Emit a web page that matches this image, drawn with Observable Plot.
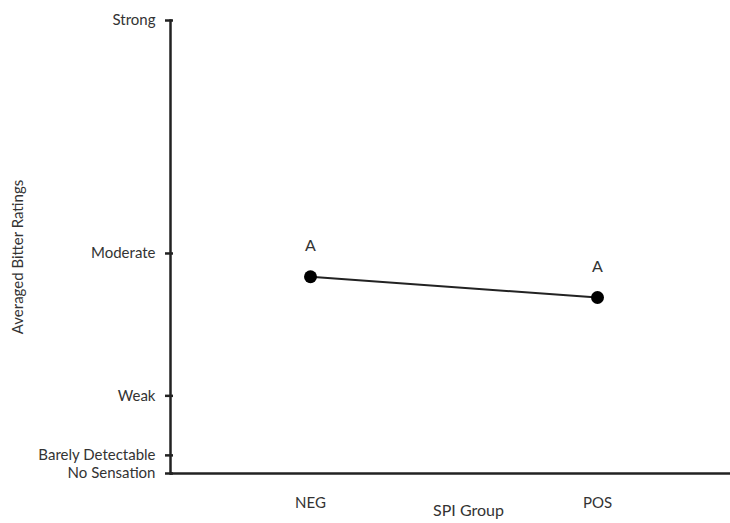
<!DOCTYPE html>
<html>
<head>
<meta charset="utf-8">
<script src="https://cdn.jsdelivr.net/npm/d3@7"></script>
<script src="https://cdn.jsdelivr.net/npm/@observablehq/plot@0.6"></script>
<style>
  html, body { margin: 0; padding: 0; background: #fff; }
  #chart { width: 730px; height: 523px; }
</style>
</head>
<body>
<div id="chart"></div>
<script>
const groups = ["NEG", "POS"];
const ratings = [15.2, 13.6];
const letters = ["A", "A"];
const tickValues = [0, 1.4, 6, 17, 35];
const tickLabels = ["No Sensation", "Barely Detectable", "Weak", "Moderate", "Strong"];
const xTitle = "SPI Group";
const yTitle = "Averaged Bitter Ratings";

const data = groups.map((g, i) => ({group: g, value: ratings[i], letter: letters[i]}));
const labelOf = new Map(tickValues.map((v, i) => [v, tickLabels[i]]));

const ink = "#222";
const font = "Lato, 'Open Sans', sans-serif";

const chart = Plot.plot({
  width: 730,
  height: 523,
  marginLeft: 170,
  marginRight: 0,
  marginTop: 20,
  marginBottom: 50,
  style: {fontFamily: font, fontSize: "15px", color: "#333", background: "#fff"},
  x: {type: "point", domain: groups, range: [310, 597], padding: 0},
  y: {domain: [0, 35]},
  marks: [
    Plot.frame({anchor: "left", stroke: ink, strokeWidth: 2.5}),
    Plot.ruleY([0], {stroke: ink, strokeWidth: 2.5}),
    Plot.axisY({
      ticks: tickValues,
      tickFormat: d => labelOf.get(d),
      tickSize: 8,
      tickPadding: 10,
      tickWidth: 2.5,
      dx: 3,
      strokeWidth: 2.5,
      stroke: ink,
      fill: "#333",
      fontSize: 15,
      label: null
    }),
    Plot.axisX({
      tickSize: 0,
      tickPadding: 24,
      fill: "#333",
      fontSize: 15,
      label: null
    }),
    Plot.text([xTitle], {frameAnchor: "bottom", dy: 42, dx: 18, fill: "#333", fontSize: 16}),
    Plot.text([yTitle], {frameAnchor: "left", textAnchor: "middle", rotate: -90, dx: -152, dy: 10, fill: "#333", fontSize: 15}),
    Plot.line(data, {x: "group", y: "value", stroke: ink, strokeWidth: 2}),
    Plot.dot(data, {x: "group", y: "value", r: 6.5, fill: "#000", stroke: "none"}),
    Plot.text(data, {x: "group", y: "value", text: "letter", dy: -31, fill: "#333", fontSize: 16})
  ]
});
document.getElementById("chart").append(chart);
</script>
</body>
</html>
